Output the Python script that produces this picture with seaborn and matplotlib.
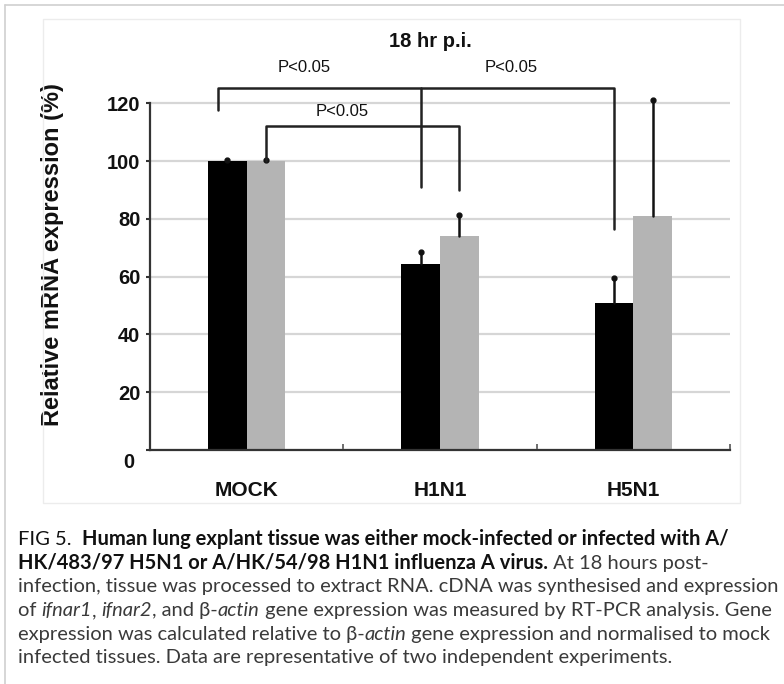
import seaborn as sns
import pandas as pd
import matplotlib.pyplot as plt
from matplotlib.lines import Line2D
from matplotlib.patches import Rectangle

groups = ['MOCK', 'H1N1', 'H5N1']
series = ['ifnar1', 'ifnar2']
ifnar1_vals = [100, 64.5, 51]
ifnar2_vals = [100, 74, 81]
ifnar1_err = [0.3, 4, 8.5]
ifnar2_err = [0.3, 7.3, 40]
yticks = [0, 20, 40, 60, 80, 100, 120]

caption_lines = [
    [("FIG 5.  ", 'normal', 'normal'),
     ("Human lung explant tissue was either mock-infected or infected with A/", 'bold', 'normal')],
    [("HK/483/97 H5N1 or A/HK/54/98 H1N1 influenza A virus.", 'bold', 'normal'),
     (" At 18 hours post-", 'normal', 'normal')],
    [("infection, tissue was processed to extract RNA. cDNA was synthesised and expression", 'normal', 'normal')],
    [("of ", 'normal', 'normal'), ("ifnar1", 'normal', 'italic'), (", ", 'normal', 'normal'),
     ("ifnar2", 'normal', 'italic'), (", and β-", 'normal', 'normal'), ("actin", 'normal', 'italic'),
     (" gene expression was measured by RT-PCR analysis. Gene", 'normal', 'normal')],
    [("expression was calculated relative to β-", 'normal', 'normal'), ("actin", 'normal', 'italic'),
     (" gene expression and normalised to mock", 'normal', 'normal')],
    [("infected tissues. Data are representative of two independent experiments.", 'normal', 'normal')],
]

df = pd.DataFrame({
    'group': groups * 2,
    'series': [series[0]] * 3 + [series[1]] * 3,
    'value': ifnar1_vals + ifnar2_vals,
})

sns.set_style('white')
plt.rcParams['font.family'] = ['Liberation Sans', 'DejaVu Sans']

W, H = 784, 684
fig = plt.figure(figsize=(W / 100, H / 100), dpi=100)

# axes placed so that x from 150 to 730 px, y=0 at 450 px, 2.89 px per unit
ymax = 130
ax_h = ymax * 2.89
ax = fig.add_axes([150 / W, 1 - 450 / H, 580 / W, ax_h / H])

sns.barplot(data=df, x='group', y='value', hue='series', order=groups, hue_order=series,
            palette=['black', '#b4b4b4'], width=0.4, errorbar=None, saturation=1,
            linewidth=0, ax=ax)
ax.get_legend().remove()

# upward error bars with dot caps
errs = ifnar1_err + ifnar2_err
for bar, e in zip(ax.patches, errs):
    xc = bar.get_x() + bar.get_width() / 2
    top = bar.get_height()
    ax.plot([xc, xc], [top, top + e], color='#111111', lw=1.8, zorder=4)
    ax.plot([xc], [top + e], marker='o', ms=3.5, color='#111111', zorder=4)

ax.set_xlim(-0.5, 2.5)
ax.set_ylim(0, ymax)
ax.set_yticks(yticks)
ax.set_yticklabels([''] + [str(t) for t in yticks[1:]])
ax.yaxis.grid(True, color='#d6d6d6', lw=1.6)
ax.xaxis.grid(False)
ax.set_axisbelow(True)

sns.despine(ax=ax)
ax.spines['left'].set_bounds(0, 120)
for s in ['left', 'bottom']:
    ax.spines[s].set_color('#333333')
    ax.spines[s].set_linewidth(1.6)

ax.tick_params(axis='y', length=3, width=1.5, color='#333333', pad=4,
               labelsize=14.5, left=True)
ax.tick_params(axis='x', length=0, pad=22, labelsize=15)
ax.set_xticks([0.5, 1.5, 2.5], minor=True)
ax.tick_params(axis='x', which='minor', direction='in', length=4, width=1.2,
               color='#555555', bottom=True)
for lab in ax.get_xticklabels() + ax.get_yticklabels():
    lab.set_fontweight('bold')
    lab.set_color('#111111')

# the "0" label sits lower than the others
ax.annotate('0', xy=(0, 0), xycoords=('axes fraction', 'data'), xytext=(-11, -9),
            textcoords='offset points', ha='right', va='center', fontsize=14.5,
            fontweight='bold', color='#111111')

ax.set_xlabel('')
ax.set_ylabel('Relative mRNA expression (%)', fontsize=17, fontweight='bold', color='#111111')
ax.yaxis.set_label_coords(-0.148, 0.52)

# significance brackets
bk = dict(color='#222222', lw=1.8, clip_on=False, zorder=5)
ax.plot([-0.15, -0.15, 1.9, 1.9], [117.6, 125.3, 125.3, 76.5], **bk)
ax.plot([0.9, 0.9], [125.3, 91], **bk)
ax.plot([0.1, 0.1, 1.1, 1.1], [100, 112, 112, 90], **bk)
ptxt = dict(ha='center', va='center', fontsize=12, color='#111111', clip_on=False)
ax.text(0.295, 132.5, 'P<0.05', **ptxt)
ax.text(1.37, 132.5, 'P<0.05', **ptxt)
ax.text(0.496, 117, 'P<0.05', **ptxt)
ax.text(0.95, 141.5, '18 hr p.i.', ha='center', va='center', fontsize=14.5,
        fontweight='bold', color='#111111', clip_on=False)

# frames
fig.add_artist(Rectangle((43 / W, 1 - 503 / H), (740 - 43) / W, (503 - 19) / H,
                         transform=fig.transFigure, fill=False, ec='#ececec', lw=1))
fig.add_artist(Line2D([5 / W, 5 / W], [0, 1 - 5 / H], transform=fig.transFigure,
                      color='#d0d0d0', lw=1.2))
fig.add_artist(Line2D([5 / W, 1], [1 - 5 / H, 1 - 5 / H], transform=fig.transFigure,
                      color='#d0d0d0', lw=1.2))

# caption, font size fitted so the third line spans 18..778 px
renderer = fig.canvas.get_renderer()
cap_family = ['Lato', 'DejaVu Sans']
probe = fig.text(0, 0, caption_lines[2][0][0], fontsize=10, family=cap_family)
pw = probe.get_window_extent(renderer).width
probe.remove()
cap_fs = 10 * 760 / pw

x0 = 18
for i, line in enumerate(caption_lines):
    yb = 545 + 23.7 * i
    x = x0
    for txt, weight, style in line:
        col = '#111111' if weight == 'bold' or i == 0 else '#3a3a3a'
        t = fig.text(x / W, 1 - yb / H, txt, fontsize=cap_fs, fontweight=weight,
                     fontstyle=style, family=cap_family, color=col, va='baseline')
        x += t.get_window_extent(renderer).width

fig.savefig('out.png', dpi=100)
